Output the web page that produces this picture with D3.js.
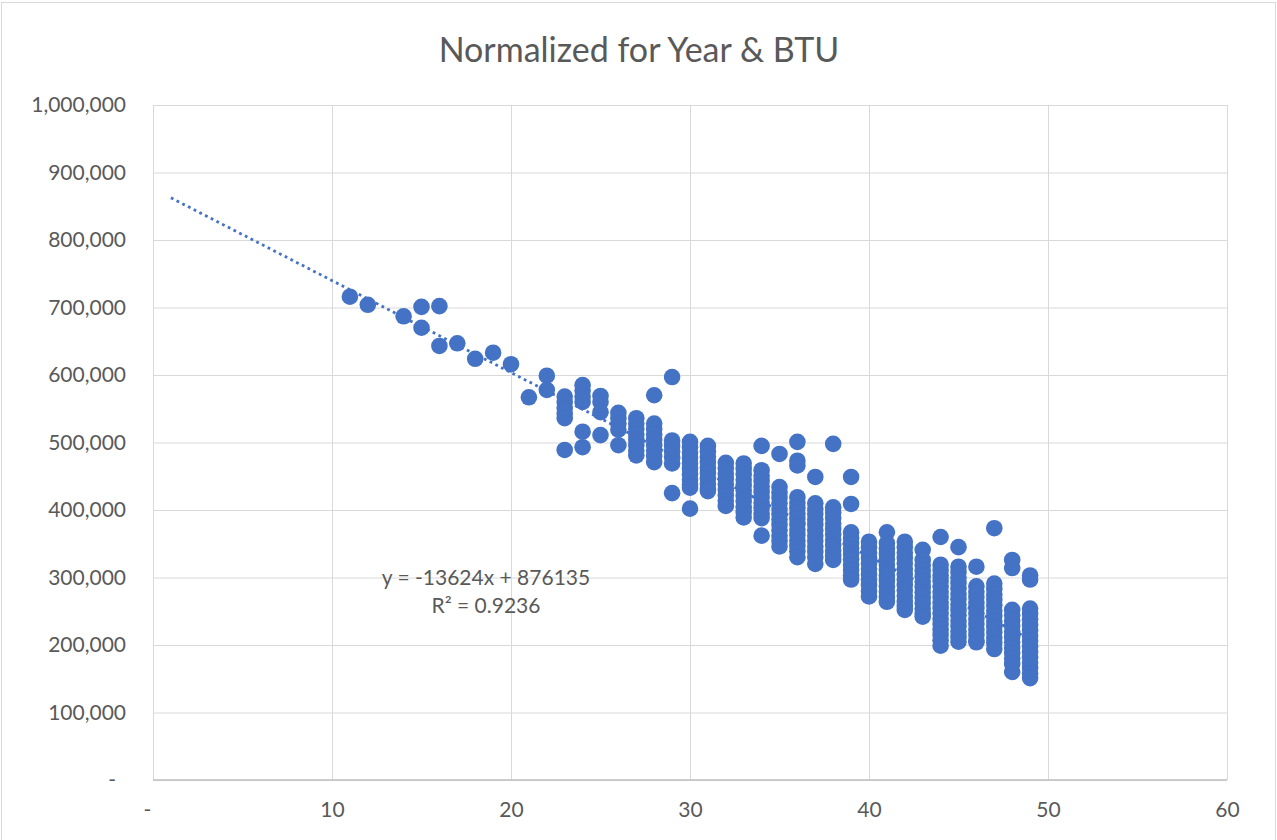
<!DOCTYPE html>
<html>
<head>
<meta charset="utf-8">
<script src="https://cdn.jsdelivr.net/npm/d3@7"></script>
<style>
  body { margin: 0; background: #fff; }
  text { font-family: Lato, "Open Sans", sans-serif; fill: #595959; }
</style>
</head>
<body>
<div id="chart"></div>
<script>
// x positions (one column of points per value)
const xCats = [11, 12, 14, 15, 16, 17, 18, 19, 20, 21, 22, 23, 24, 25, 26, 27, 28, 29,
  30, 31, 32, 33, 34, 35, 36, 37, 38, 39, 40, 41, 42, 43, 44, 45, 46, 47, 48, 49];

// y values per column, in thousands
const yByX = [
  [716],
  [704],
  [687],
  [701, 670],
  [702, 643],
  [647],
  [624],
  [633],
  [616],
  [567],
  [599, 578],
  [568, 560, 551, 543, 536, 489],
  [585, 577, 568, 560, 516, 493],
  [569, 560, 545, 511],
  [544, 536, 528, 519, 496],
  [536, 528, 520, 512, 504, 496, 488, 481],
  [570, 528, 520, 512, 504, 496, 488, 480, 471],
  [597, 503, 495, 487, 479, 469, 425],
  [501, 493, 485, 477, 469, 461, 453, 445, 437, 433, 402],
  [495, 487, 479, 471, 463, 455, 447, 439, 431, 428],
  [470, 462, 454, 446, 438, 430, 422, 414, 406],
  [469, 461, 453, 445, 437, 429, 421, 413, 405, 397, 389],
  [495, 459, 451, 443, 435, 427, 419, 411, 403, 395, 388, 362],
  [483, 434, 426, 418, 410, 402, 394, 386, 378, 370, 362, 354, 346],
  [501, 473, 466, 419, 411, 403, 395, 387, 379, 371, 363, 355, 347, 339, 330],
  [449, 410, 402, 394, 386, 378, 370, 362, 354, 346, 338, 330, 320],
  [498, 404, 396, 388, 380, 372, 364, 356, 348, 340, 333, 326],
  [449, 409, 367, 359, 351, 343, 335, 327, 319, 311, 303, 297],
  [353, 345, 337, 329, 321, 313, 305, 297, 289, 280, 272],
  [367, 351, 343, 335, 327, 319, 311, 303, 295, 287, 279, 271, 264],
  [353, 345, 337, 329, 321, 313, 305, 297, 289, 281, 273, 265, 258, 252],
  [341, 326, 318, 310, 302, 294, 286, 278, 270, 262, 254, 246, 242],
  [360, 319, 311, 303, 295, 287, 279, 271, 263, 255, 247, 239, 231, 223, 215, 207, 199],
  [345, 316, 308, 300, 292, 284, 276, 268, 260, 252, 244, 236, 228, 220, 212, 205],
  [316, 287, 279, 271, 263, 255, 247, 239, 231, 223, 215, 207, 204],
  [373, 291, 283, 275, 267, 259, 251, 243, 235, 227, 219, 211, 203, 194],
  [326, 314, 252, 244, 236, 228, 220, 212, 204, 196, 188, 180, 172, 160],
  [303, 297, 254, 246, 238, 230, 222, 214, 206, 198, 190, 182, 174, 166, 158, 151]
];

const xTicks = [0, 10, 20, 30, 40, 50, 60];
const yTicks = [0, 100000, 200000, 300000, 400000, 500000, 600000, 700000, 800000, 900000, 1000000];

// linear trendline from the sheet
const trend = {slope: -13624, intercept: 876135, r2: 0.9236, from: 1, to: 49};

const W = 1277, H = 840;
const margin = {top: 105, right: 50, bottom: 60, left: 153};
const innerW = 1227 - margin.left;
const innerH = 780 - margin.top;

const svg = d3.select('#chart').append('svg')
  .attr('width', W)
  .attr('height', H);

svg.append('rect')
  .attr('x', 1.5).attr('y', 2.5)
  .attr('width', W - 3).attr('height', H + 10)
  .attr('fill', '#fff')
  .attr('stroke', '#d9d9d9');

svg.append('text')
  .attr('x', 639)
  .attr('y', 62)
  .attr('text-anchor', 'middle')
  .style('font-size', '34px')
  .text('Normalized for Year & BTU');

const g = svg.append('g')
  .attr('transform', `translate(${margin.left},${margin.top})`);

const x = d3.scaleLinear().domain([0, 60]).range([0, innerW]);
const y = d3.scaleLinear().domain([0, 1000000]).range([innerH, 0]);

// gridlines
g.append('g')
  .attr('class', 'grid')
  .call(d3.axisLeft(y).tickValues(yTicks).tickSize(-innerW).tickFormat(''))
  .call(s => s.select('.domain').remove())
  .call(s => s.selectAll('line').attr('stroke', '#d9d9d9'));
g.append('g')
  .attr('class', 'grid')
  .attr('transform', `translate(0,${innerH})`)
  .call(d3.axisBottom(x).tickValues(xTicks).tickSize(-innerH).tickFormat(''))
  .call(s => s.select('.domain').remove())
  .call(s => s.selectAll('line').attr('stroke', '#d9d9d9'));

// x baseline
g.append('line')
  .attr('x1', 0).attr('x2', innerW)
  .attr('y1', innerH).attr('y2', innerH)
  .attr('stroke', '#bfbfbf')
  .attr('stroke-width', 1.5);

// axis labels
const fmt = d3.format(',');
g.append('g')
  .call(d3.axisLeft(y).tickValues(yTicks).tickSize(0).tickPadding(27)
    .tickFormat(d => d === 0 ? '-' : fmt(d)))
  .call(s => s.select('.domain').remove())
  .call(s => s.selectAll('text')
    .style('font-size', '21px')
    .attr('fill', '#595959')
    .attr('font-family', null)
    .attr('dx', d => d === 0 ? -10 : 0));

g.append('g')
  .attr('transform', `translate(0,${innerH})`)
  .call(d3.axisBottom(x).tickValues(xTicks).tickSize(0).tickPadding(22)
    .tickFormat(d => d === 0 ? '-' : d))
  .call(s => s.select('.domain').remove())
  .call(s => s.selectAll('text')
    .style('font-size', '21px')
    .attr('fill', '#595959')
    .attr('font-family', null)
    .attr('dx', d => d === 0 ? -6 : 0));

// points
const points = xCats.flatMap((xv, i) => yByX[i].map(v => ({x: xv, y: v * 1000})));

g.append('g')
  .selectAll('circle')
  .data(points)
  .join('circle')
  .attr('cx', d => x(d.x))
  .attr('cy', d => y(d.y))
  .attr('r', 8.3)
  .attr('fill', '#4472c4');

// trendline
const line = d3.line().x(d => x(d)).y(d => y(trend.slope * d + trend.intercept));
g.append('path')
  .datum([trend.from, trend.to])
  .attr('d', line)
  .attr('fill', 'none')
  .attr('stroke', '#4472c4')
  .attr('stroke-width', 2.8)
  .attr('stroke-dasharray', '2.8,3.6');

// equation label
const eq = svg.append('text')
  .attr('text-anchor', 'middle')
  .style('font-size', '21px');
eq.append('tspan').attr('x', 486).attr('y', 585)
  .text(`y = ${trend.slope}x + ${trend.intercept}`);
eq.append('tspan').attr('x', 486).attr('y', 613)
  .text(`R² = ${trend.r2}`);
</script>
</body>
</html>
